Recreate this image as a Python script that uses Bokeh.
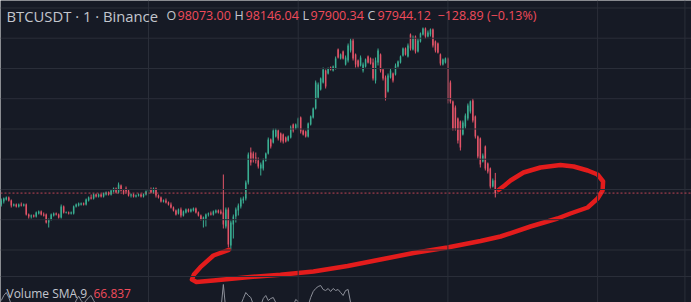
from bokeh.plotting import figure
from bokeh.models import Range1d, Span, Label, ColumnDataSource
from bokeh.embed import file_html
from bokeh.resources import INLINE

# ---------------- data (BTCUSDT, 1-minute candles) ----------------
opens = [
    97830, 97860, 97880, 97900, 97870, 97820, 97830, 97810, 97830, 97820,
    97830, 97730, 97710, 97720, 97710, 97740, 97760, 97730, 97730, 97650,
    97680, 97720, 97740, 97730, 97700, 97810, 97750, 97750, 97740, 97740,
    97810, 97820, 97830, 97840, 97830, 97870, 97900, 97890, 97930, 97910,
    97930, 97910, 97930, 97950, 97930, 97960, 97990, 97950, 98020, 97970,
    97990, 97970, 97920, 97930, 97910, 97920, 97930, 97910, 97930, 97960,
    97980, 97950, 97990, 97920, 97900, 97860, 97870, 97850, 97830, 97800,
    97770, 97740, 97780, 97720, 97750, 97780, 97760, 97770, 97790, 97750,
    97720, 97680, 97690, 97730, 97740, 97730, 97750, 97770, 97760, 97750,
    97610, 97780, 97420, 97630, 97710, 97770, 97810, 97870, 97890, 98050,
    98350, 98340, 98300, 98270, 98190, 98190, 98270, 98340, 98480, 98450,
    98510, 98570, 98540, 98530, 98500, 98470, 98500, 98630, 98590, 98600,
    98700, 98570, 98560, 98510, 98630, 98700, 98790, 98900, 98980, 99050,
    99170, 99140, 99200, 99170, 99190, 99380, 99290, 99360, 99230, 99270,
    99370, 99470, 99330, 99270, 99220, 99170, 99210, 99310, 99290, 99250,
    99070, 99250, 99330, 99180, 99100, 98960, 99100, 99140, 99130, 99210,
    99250, 99320, 99390, 99310, 99530, 99380, 99510, 99360, 99460, 99530,
    99590, 99510, 99530, 99580, 99460, 99440, 99330, 99230, 99250, 99290,
    99050, 98860, 98800, 98690, 98660, 98530, 98610, 98690, 98760, 98870,
    98710, 98510, 98490, 98260, 98410, 98240, 98190, 98010, 98073.00,
]
highs = [
    97890, 97900, 97910, 97910, 97880, 97840, 97840, 97840, 97850, 97840,
    97840, 97740, 97730, 97730, 97760, 97770, 97770, 97750, 97740, 97690,
    97740, 97750, 97750, 97740, 97830, 97820, 97760, 97760, 97760, 97820,
    97840, 97850, 97850, 97850, 97890, 97910, 97930, 97940, 97940, 97940,
    97940, 97950, 97960, 97960, 97980, 98000, 98000, 98050, 98030, 97980,
    98010, 97980, 97940, 97940, 97930, 97940, 97940, 97940, 97970, 97990,
    98000, 98000, 98000, 97930, 97910, 97880, 97890, 97860, 97850, 97810,
    97780, 97790, 97800, 97770, 97790, 97790, 97790, 97800, 97800, 97760,
    97730, 97710, 97740, 97750, 97760, 97770, 97780, 97780, 97780, 98130,
    97800, 97800, 97670, 97730, 97800, 97840, 97900, 97910, 98070, 98350,
    98400, 98360, 98350, 98300, 98250, 98290, 98350, 98500, 98490, 98590,
    98590, 98580, 98550, 98540, 98510, 98520, 98620, 98640, 98640, 98700,
    98710, 98580, 98570, 98650, 98720, 98800, 99070, 99050, 99100, 99200,
    99180, 99200, 99210, 99220, 99310, 99390, 99340, 99370, 99320, 99440,
    99490, 99490, 99340, 99280, 99320, 99250, 99290, 99320, 99300, 99290,
    99300, 99390, 99340, 99190, 99120, 99140, 99190, 99150, 99240, 99270,
    99320, 99400, 99400, 99440, 99540, 99520, 99520, 99490, 99550, 99600,
    99600, 99570, 99590, 99590, 99470, 99450, 99340, 99290, 99300, 99300,
    99070, 98870, 98820, 98700, 98670, 98670, 98740, 98840, 98870, 98890,
    98720, 98520, 98500, 98340, 98420, 98250, 98200, 98090, 98146.04,
]
lows = [
    97810, 97840, 97870, 97860, 97800, 97810, 97800, 97800, 97810, 97810,
    97720, 97690, 97690, 97700, 97700, 97730, 97720, 97710, 97640, 97600,
    97670, 97710, 97720, 97690, 97690, 97740, 97740, 97730, 97730, 97730,
    97800, 97810, 97820, 97820, 97820, 97860, 97880, 97880, 97900, 97900,
    97900, 97900, 97920, 97920, 97920, 97950, 97940, 97940, 97960, 97930,
    97940, 97910, 97900, 97900, 97900, 97910, 97900, 97900, 97920, 97950,
    97940, 97940, 97900, 97890, 97850, 97850, 97840, 97820, 97790, 97760,
    97720, 97730, 97700, 97710, 97740, 97750, 97750, 97760, 97740, 97710,
    97670, 97600, 97610, 97710, 97720, 97720, 97740, 97740, 97730, 97590,
    97590, 97400, 97370, 97490, 97650, 97720, 97790, 97840, 97870, 98030,
    98220, 98250, 98240, 98190, 98120, 98170, 98260, 98330, 98390, 98440,
    98500, 98470, 98450, 98440, 98450, 98460, 98490, 98550, 98580, 98590,
    98540, 98520, 98500, 98500, 98620, 98690, 98780, 98890, 98970, 99040,
    98990, 99130, 99170, 99160, 99180, 99290, 99280, 99280, 99220, 99250,
    99350, 99270, 99200, 99200, 99210, 99150, 99200, 99240, 99230, 99070,
    99040, 99220, 99150, 99070, 98870, 98950, 99090, 99050, 99120, 99200,
    99240, 99310, 99320, 99300, 99370, 99370, 99340, 99350, 99450, 99520,
    99490, 99500, 99510, 99400, 99350, 99340, 99220, 99220, 99240, 98840,
    98840, 98570, 98570, 98440, 98370, 98520, 98590, 98670, 98740, 98650,
    98490, 98290, 98200, 98250, 98170, 98140, 97990, 98000, 97900.34,
]
closes = [
    97870, 97890, 97900, 97870, 97820, 97830, 97810, 97830, 97820, 97830,
    97730, 97710, 97720, 97710, 97750, 97760, 97730, 97720, 97650, 97680,
    97730, 97740, 97730, 97700, 97810, 97750, 97755, 97740, 97750, 97810,
    97830, 97840, 97840, 97830, 97880, 97900, 97890, 97930, 97910, 97930,
    97910, 97940, 97950, 97930, 97970, 97990, 97950, 98030, 97970, 97950,
    97960, 97920, 97930, 97910, 97920, 97930, 97910, 97930, 97960, 97980,
    97950, 97990, 97920, 97900, 97860, 97870, 97850, 97830, 97800, 97770,
    97730, 97780, 97720, 97760, 97780, 97760, 97780, 97790, 97750, 97720,
    97680, 97700, 97730, 97740, 97730, 97760, 97770, 97750, 97740, 97630,
    97780, 97430, 97650, 97710, 97780, 97820, 97880, 97890, 98050, 98330,
    98250, 98290, 98270, 98210, 98230, 98270, 98340, 98480, 98410, 98570,
    98580, 98490, 98470, 98460, 98460, 98510, 98600, 98570, 98630, 98690,
    98560, 98530, 98510, 98640, 98710, 98790, 99050, 99030, 99090, 99180,
    99010, 99190, 99180, 99210, 99290, 99300, 99330, 99290, 99300, 99420,
    99470, 99290, 99230, 99210, 99300, 99230, 99280, 99250, 99240, 99090,
    99270, 99370, 99170, 99090, 98900, 99120, 99170, 99070, 99220, 99260,
    99310, 99390, 99330, 99420, 99390, 99500, 99360, 99470, 99540, 99590,
    99510, 99550, 99580, 99420, 99370, 99350, 99240, 99280, 99290, 98870,
    98860, 98590, 98590, 98470, 98400, 98650, 98720, 98820, 98860, 98670,
    98510, 98310, 98230, 98320, 98190, 98160, 98010, 98070, 97944.12,
]

# volume pane line (bar index, volume) - only the parts that reach into view
vol_bar = [0, 1, 2, 3, 4, 5,
           28, 29, 30, 31, 32, 33, 34, 35, 36, 37, 38, 39,
           88, 89, 90,
           95, 96, 97, 98, 99, 100, 101, 102,
           103, 104, 105, 106, 107, 108, 109, 110, 111,
           116, 117, 118, 119, 120,
           122, 123, 124, 125, 126, 127, 128, 129, 130, 131, 132, 133, 134,
           135, 136, 137, 138, 139, 140, 141]
vol_val = [150, 175, 190, 165, 130, 100,
           100, 120, 150, 172, 150, 135, 150, 165, 175, 150, 130, 100,
           100, 230, 100,
           100, 130, 160, 190, 175, 165, 130, 110,
           105, 125, 160, 175, 150, 160, 165, 140, 110,
           100, 125, 155, 145, 110,
           100, 125, 165, 195, 210, 220, 225, 205, 200, 210, 195, 210, 200,
           205, 190, 175, 200, 205, 140, 100]

# hand-drawn red annotation (bar index, price)
ann_bar = [199.4, 201.7, 204.1, 209.3, 216.1, 224.1, 229.4, 235.0, 239.0, 241.2,
           241.0, 239.0, 235.0, 228.1, 222.9, 212.1, 200.1, 192.1, 178.8, 165.2,
           152.0, 138.8, 125.1, 111.9, 98.7, 85.0, 78.2, 76.4, 77.2, 79.8,
           85.0, 91.2]
ann_price = [97977, 98020, 98070, 98150, 98200, 98225, 98210, 98170, 98130, 98060,
             97970, 97890, 97800, 97740, 97690, 97610, 97510, 97465, 97400, 97345,
             97280, 97215, 97160, 97127, 97103, 97070, 97055, 97080, 97130, 97203,
             97320, 97377]

price_grid = [97375, 97678, 97980, 98283, 98585, 98888, 99190, 99493, 99795]
time_grid = [59, 119, 179, 239]
last_price = closes[-1]

n = len(opens)
assert len(highs) == n and len(lows) == n and len(closes) == n, (len(opens), len(highs), len(lows), len(closes))
assert len(vol_bar) == len(vol_val) and len(ann_bar) == len(ann_price)

# ---------------- styling ----------------
BG = "#161a25"
GRID = "#2a2e39"
UP = "#3aae92"
DOWN = "#e25468"
RED_TXT = "#f04b5b"
GREY_TXT = "#c3c6ce"
W, H = 691, 302
BAR_PX = 2.495

bars = list(range(n))
colors = [UP if c >= o else DOWN for o, c in zip(opens, closes)]
src = ColumnDataSource(dict(
    x=bars, h=highs, l=lows,
    top=[max(o, c) for o, c in zip(opens, closes)],
    bot=[min(o, c) for o, c in zip(opens, closes)],
    color=colors,
))

p = figure(width=W, height=H,
           x_range=Range1d(-0.32, -0.32 + W / BAR_PX),
           y_range=Range1d(96850, 99870),
           x_axis_type=None, y_axis_type=None,
           toolbar_location=None, output_backend="svg",
           min_border=0, background_fill_color=BG, border_fill_color=BG)
p.outline_line_color = None
p.extra_y_ranges = {"vol": Range1d(140, 1650)}

for t in price_grid:
    p.add_layout(Span(location=t, dimension="width", line_color=GRID, line_width=1))
for t in time_grid:
    p.add_layout(Span(location=t, dimension="height", line_color=GRID, line_width=1))
# price-scale border and pane separator
p.add_layout(Span(location=274.0, dimension="height", line_color=GRID, line_width=1))
p.add_layout(Span(location=97110, dimension="width", line_color=GRID, line_width=1))

# candles
p.segment(x0="x", y0="l", x1="x", y1="h", line_color="color", line_width=1, source=src)
p.vbar(x="x", width=0.6, top="top", bottom="bot", fill_color="color", line_color=None, source=src)

# last price dotted line
p.add_layout(Span(location=last_price, dimension="width", line_color="#d0485a",
                  line_width=1, line_dash="2 2", line_alpha=0.9))

# volume line
p.line(vol_bar, vol_val, y_range_name="vol", line_color="#8d909a", line_width=1)

# red annotation
p.line(ann_bar, ann_price, line_color="#e31c1c", line_width=4.5,
       line_cap="round", line_join="round")

# legend texts
def lab(x, y, text, color, size):
    p.add_layout(Label(x=x, y=H - y, x_units="screen", y_units="screen", text=text,
                       text_color=color, text_font="Open Sans", text_font_size=size,
                       text_baseline="middle", text_align="left"))

lab(6, 15, "BTCUSDT · 1 · Binance", GREY_TXT, "14.8px")
lab(166, 15, "O", GREY_TXT, "12.5px")
lab(177, 15, "98073.00", RED_TXT, "12.5px")
lab(234, 15, "H", GREY_TXT, "12.5px")
lab(245, 15, "98146.04", RED_TXT, "12.5px")
lab(302, 15, "L", GREY_TXT, "12.5px")
lab(310, 15, "97900.34", RED_TXT, "12.5px")
lab(367, 15, "C", GREY_TXT, "12.5px")
lab(377, 15, "97944.12", RED_TXT, "12.5px")
lab(437, 15, "\u2212128.89 (\u22120.13%)", RED_TXT, "12.5px")
lab(6, 293, "Volume SMA 9", GREY_TXT, "12px")
lab(93, 293, "66.837", RED_TXT, "12px")

open("out.html", "w").write(file_html(p, INLINE))
